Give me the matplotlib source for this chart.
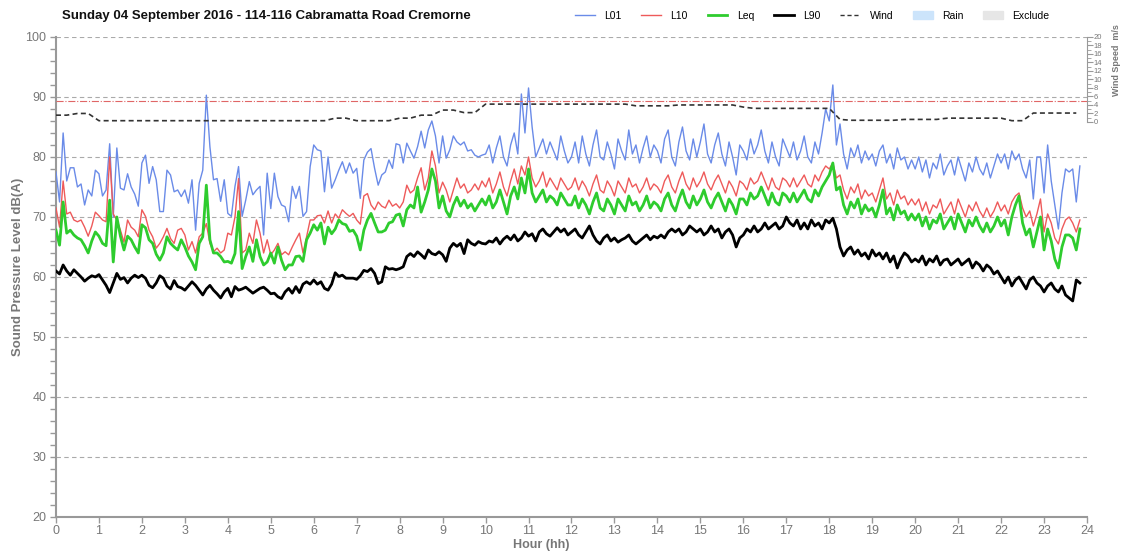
import numpy as np
import matplotlib.pyplot as plt
from matplotlib.lines import Line2D
from matplotlib.patches import Patch

plt.rcParams['font.family'] = ['Liberation Sans', 'DejaVu Sans']

title = 'Sunday 04 September 2016 - 114-116 Cabramatta Road Cremorne'

# 5-minute noise statistics, dB(A), 00:00 to 23:50
l01 = [
    77.5, 72.5, 84.0, 76.0, 78.2, 78.2, 75.0, 75.5, 72.0, 74.5, 73.5, 77.8,
    77.2, 73.5, 74.5, 82.2, 70.0, 81.5, 74.8, 74.5, 77.2, 75.0, 73.8, 71.8,
    79.0, 80.3, 75.6, 78.4, 76.2, 70.9, 70.9, 77.8, 77.0, 74.2, 74.5, 73.4,
    74.5, 72.3, 76.2, 67.8, 75.6, 77.8, 90.3, 81.7, 76.2, 76.4, 72.6, 76.2,
    70.6, 70.1, 75.1, 78.4, 70.1, 72.8, 75.9, 73.7, 74.5, 75.1, 67.0, 77.3,
    71.4, 77.3, 73.4, 72.0, 71.7, 69.2, 75.1, 73.1, 75.1, 70.1, 70.9, 78.4,
    82.0, 81.2, 81.0, 74.2, 80.0, 74.8, 76.2, 77.8, 79.2, 77.3, 79.0, 77.3,
    78.1, 73.1, 79.5, 80.8, 81.4, 78.1, 75.3, 77.0, 77.5, 79.5, 78.1, 82.2,
    82.0, 79.0, 82.3, 81.0, 79.8, 81.7, 84.3, 81.5, 84.5, 86.0, 83.5, 79.0,
    83.5, 79.8, 81.2, 83.5, 82.5, 82.0, 82.5, 81.0, 81.2, 80.3, 80.0, 80.3,
    80.5, 82.0, 79.0, 81.5, 83.5, 80.0, 78.5, 82.0, 84.0, 80.5, 90.5, 84.0,
    91.5, 85.0, 80.0, 81.5, 83.0, 80.5, 82.5, 81.0, 79.5, 83.5, 81.0, 79.0,
    80.0, 82.5, 79.0, 83.5, 80.5, 78.5, 82.0, 84.5, 80.0, 79.5, 82.5, 80.5,
    78.0, 83.0, 81.0, 79.5, 84.5, 80.5, 82.0, 79.0, 81.5, 83.5, 80.0, 82.0,
    81.0, 79.0, 83.0, 84.5, 80.0, 78.5, 82.5, 85.0, 81.0, 79.5, 83.0, 80.0,
    82.5, 85.5, 80.5, 79.0, 82.0, 84.0, 80.5, 78.5, 82.5, 80.0, 77.0, 82.0,
    81.0, 79.5, 83.0, 80.5, 82.0, 84.5, 81.0, 79.0, 82.5, 80.0, 78.5, 83.0,
    81.5, 80.0, 82.5, 79.5, 81.0, 83.5, 80.0, 79.0, 82.5, 80.5, 84.0, 88.0,
    86.0, 92.0, 82.0, 85.5, 80.5, 78.0, 81.5, 80.0, 82.0, 79.0, 81.0, 79.5,
    80.5, 78.5, 81.0, 82.0, 79.0, 80.5, 78.0, 81.5, 79.5, 80.0, 78.0, 79.5,
    78.0, 80.0, 77.5, 79.5, 76.5, 79.0, 78.0, 80.5, 77.0, 78.5, 79.5, 77.0,
    80.0, 78.0, 76.0, 79.0, 77.5, 80.0, 78.0, 77.0, 79.0, 76.5, 78.5, 80.5,
    79.0, 80.5, 78.0, 81.0, 79.5, 80.5, 78.0, 76.5, 79.5, 73.0, 80.0, 80.0,
    74.0, 82.0, 76.0, 72.0, 68.0, 74.0, 78.0, 77.5, 78.0, 72.5, 78.5,
]
l10 = [
    71.5, 68.3, 76.0, 70.5, 70.8, 69.5, 69.2, 69.5, 68.3, 66.8, 68.5, 70.8,
    70.2, 69.5, 69.2, 80.0, 70.5, 69.5, 67.8, 65.8, 69.5, 68.3, 67.8, 66.7,
    71.2, 70.1, 67.8, 66.7, 64.8, 65.6, 66.7, 68.1, 66.4, 65.6, 67.8, 68.1,
    67.0, 64.5, 65.9, 64.0, 66.7, 67.3, 68.9, 65.6, 64.2, 64.8, 64.0, 64.5,
    67.3, 67.0, 70.0, 76.4, 64.0, 64.5, 67.3, 65.6, 69.5, 67.3, 64.0, 66.2,
    63.7, 64.5, 65.6, 63.7, 64.2, 63.7, 65.0, 66.2, 67.3, 64.0, 66.7, 69.5,
    69.5, 70.2, 70.3, 69.0, 71.0, 69.0, 70.5, 69.8, 71.2, 70.6, 70.1, 70.6,
    69.5, 68.8, 73.5, 73.9, 72.0, 71.2, 72.5, 71.8, 71.5, 72.8, 71.8, 72.2,
    71.5, 72.5, 75.3, 74.0, 74.5, 76.5, 78.2, 74.5, 76.5, 81.0, 78.5, 74.0,
    75.8, 74.5, 72.5, 74.5, 76.5, 74.8, 75.5, 74.0, 74.5, 75.5, 74.5, 76.0,
    75.0, 76.5, 74.0, 75.5, 77.5, 75.0, 73.5, 76.0, 78.0, 75.5, 78.5, 77.0,
    80.0, 76.5, 75.0, 76.0, 77.5, 75.0, 76.5, 75.5, 74.5, 76.5, 75.5, 74.5,
    75.0, 76.5, 74.5, 76.0, 75.0, 73.5, 75.5, 77.0, 74.5, 74.0, 76.0, 75.0,
    73.5, 76.0, 75.0, 74.0, 76.5, 75.0, 75.5, 74.0, 75.0, 76.5, 74.5, 75.5,
    75.0, 74.0, 76.0, 77.0, 75.0, 74.0, 76.0, 77.5, 75.5, 74.5, 76.5, 75.0,
    76.0, 77.5, 75.5, 74.5, 76.0, 77.0, 75.5, 74.0, 76.0, 75.0, 73.5, 76.0,
    75.5, 74.5, 76.5, 75.5, 76.0, 77.5, 76.0, 74.5, 76.5, 75.0, 74.5, 76.5,
    76.0, 75.0, 76.5, 75.0, 76.0, 77.0, 75.5, 75.0, 77.0, 76.0, 77.5, 78.5,
    78.0, 79.0, 76.5, 77.0, 74.5, 73.0, 75.0, 74.0, 75.5, 73.0, 74.5, 73.5,
    74.0, 72.5, 74.5, 76.5, 73.0, 74.0, 72.0, 74.5, 73.0, 73.5, 72.0, 73.0,
    72.0, 73.0, 71.0, 72.5, 70.5, 72.0, 71.5, 73.0, 70.5, 71.5, 72.5, 70.5,
    73.0, 71.5, 70.0, 72.0, 71.0, 72.5, 71.0, 70.0, 71.5, 70.0, 71.0, 72.5,
    71.0, 72.0, 70.5, 72.5, 73.5, 74.0, 71.5, 70.0, 71.0, 68.5, 70.5, 73.0,
    67.5, 70.5, 69.0, 66.5, 65.5, 68.0, 69.5, 70.0, 69.0, 67.5, 69.5,
]
leq = [
    67.8, 65.3, 72.5, 67.3, 67.8, 67.0, 66.5, 66.2, 65.2, 64.0, 66.0, 67.5,
    66.8, 65.6, 65.2, 72.8, 62.5, 70.0, 66.8, 64.5, 66.8, 66.2, 65.0, 64.0,
    68.7, 68.2, 66.2, 65.6, 63.8, 62.8, 64.0, 66.7, 65.6, 65.0, 64.5, 66.2,
    65.0, 63.5, 62.5, 61.2, 65.6, 66.7, 75.3, 66.2, 64.0, 64.0, 63.4, 62.5,
    62.6, 62.3, 63.9, 70.9, 61.4, 63.4, 65.0, 62.6, 66.2, 63.4, 62.0, 62.5,
    64.0, 62.3, 65.0, 62.8, 61.2, 62.0, 62.0, 63.4, 63.5, 62.6, 66.2, 67.3,
    68.7, 67.8, 69.0, 65.5, 68.3, 67.2, 68.0, 69.5, 68.9, 68.7, 67.6, 67.8,
    66.8, 64.5, 67.8, 69.5, 70.6, 69.0, 67.5, 67.5, 67.8, 69.0, 69.2, 70.3,
    70.5, 68.5, 71.2, 72.0, 71.5, 75.0, 70.8, 72.5, 74.5, 78.0, 76.0, 71.5,
    73.5, 71.0, 70.0, 72.0, 73.3, 71.8, 72.8, 71.5, 72.2, 71.0, 72.0, 73.0,
    72.0, 73.5, 71.5, 72.5, 74.5, 72.5, 70.5, 73.5, 75.0, 73.0, 76.5, 74.0,
    78.0, 74.0, 72.5, 73.5, 74.5, 72.5, 73.5, 73.0, 72.0, 74.0, 73.0, 72.0,
    72.0, 73.5, 71.5, 73.0, 72.0, 70.5, 72.5, 74.0, 71.5, 71.0, 73.0, 72.0,
    70.5, 73.0, 72.0, 71.0, 73.5, 72.0, 72.5, 71.0, 72.0, 73.5, 71.5, 72.5,
    72.0, 71.0, 73.0, 74.0, 72.0, 71.0, 73.0, 74.5, 72.5, 71.5, 73.5, 72.0,
    73.0, 74.5, 72.5, 71.5, 73.0, 74.0, 72.5, 71.0, 73.0, 72.0, 70.5, 73.0,
    73.0, 72.0, 74.0, 73.0, 73.5, 75.0, 73.5, 72.0, 74.0, 72.5, 72.0, 74.0,
    73.5, 72.5, 74.0, 72.5, 73.5, 74.5, 73.0, 72.5, 74.5, 73.5, 75.0, 76.0,
    77.0, 79.0, 74.5, 75.0, 72.0, 70.5, 72.5, 71.5, 73.0, 70.5, 72.0, 71.0,
    71.5, 70.0, 72.0, 74.5, 70.5, 71.5, 69.5, 72.0, 70.5, 71.0, 69.5, 70.5,
    69.5, 70.5, 68.5, 70.0, 68.0, 69.5, 69.0, 70.5, 68.0, 69.0, 70.0, 68.0,
    70.5, 69.0, 67.5, 69.5, 68.5, 70.0, 68.5, 67.5, 69.0, 67.5, 68.5, 70.0,
    68.5, 69.5, 67.0, 70.0, 72.0, 73.5, 69.0, 67.0, 68.0, 65.0, 67.5, 70.0,
    64.5, 68.0, 66.0, 63.0, 61.5, 65.0, 67.0, 67.0, 66.5, 64.5, 68.0,
]
l90 = [
    61.0, 60.5, 62.0, 61.0, 60.3, 61.2, 60.6, 60.0, 59.3, 59.8, 60.2, 60.0,
    60.4, 59.5, 58.6, 57.4, 59.0, 60.6, 59.6, 59.9, 59.0, 59.8, 60.3, 59.9,
    60.3, 59.8, 58.6, 58.2, 59.0, 60.2, 59.8, 58.5, 58.0, 59.4, 58.4, 58.2,
    57.8, 58.5, 59.2, 58.6, 57.8, 57.0, 58.0, 58.6, 57.8, 57.2, 56.5, 57.5,
    58.1, 56.7, 58.4, 57.8, 58.0, 58.3, 57.8, 57.3, 57.7, 58.1, 58.3, 57.8,
    57.2, 57.3, 56.7, 56.4, 57.5, 58.1, 57.3, 58.4, 57.4, 58.8, 59.2, 58.8,
    59.5, 58.8, 59.2, 58.1, 57.8, 58.8, 60.7, 60.1, 60.3, 59.8, 59.8, 59.8,
    59.6, 60.2, 61.1, 60.9, 61.4, 60.6, 58.9, 59.2, 61.7, 61.3, 61.4, 61.2,
    61.4, 61.7, 63.4, 63.9, 63.4, 64.2, 63.7, 63.1, 64.5, 63.9, 63.7, 64.2,
    63.7, 62.6, 64.8, 65.6, 65.1, 65.6, 63.9, 66.2, 65.6, 65.3, 65.9, 65.6,
    65.5, 66.0, 65.8, 66.5, 65.5, 66.3, 66.8, 66.2, 67.0, 66.0, 66.5, 67.5,
    66.8, 67.2, 66.0, 67.5, 68.0, 67.2, 66.8, 67.5, 68.2, 67.5, 68.0, 67.0,
    67.5, 68.0, 67.0, 66.5, 67.5, 68.5, 67.0, 66.0, 65.5, 66.5, 67.0, 66.0,
    66.5, 65.8, 66.2, 66.5, 67.0, 66.0, 65.5, 66.0, 66.5, 67.0, 66.2, 66.8,
    66.5, 67.0, 66.5, 67.5, 68.0, 67.5, 68.0, 67.0, 67.5, 68.5, 68.0, 67.5,
    68.0, 67.0, 67.5, 68.5, 67.5, 68.0, 66.5, 67.5, 68.0, 67.0, 65.0, 66.5,
    67.0, 68.0, 67.5, 68.5, 67.5, 68.0, 69.0, 68.0, 68.5, 69.0, 68.0, 68.5,
    70.0, 69.0, 68.5, 69.5, 68.0, 69.0, 68.0, 69.5, 68.5, 69.0, 68.0, 69.5,
    69.0, 69.8, 68.0, 65.0, 63.5, 64.5, 65.0, 63.8, 64.5, 63.5, 64.0, 63.0,
    64.5, 63.5, 64.0, 63.0, 64.0, 62.5, 63.5, 61.5, 63.0, 64.0, 63.5, 62.5,
    63.0, 62.5, 63.5, 62.0, 63.0, 62.5, 63.5, 62.0, 62.8, 63.0, 62.0, 62.5,
    63.0, 62.0, 62.5, 63.0, 61.5, 62.5, 62.0, 61.0, 62.0, 61.5, 60.5, 61.0,
    60.0, 59.0, 60.0, 58.5, 59.5, 60.0, 59.0, 58.0, 59.5, 60.0, 59.0, 58.5,
    57.5, 58.5, 59.0, 58.0, 57.5, 58.5, 57.0, 56.5, 56.0, 59.5, 59.0,
]

# 15-minute wind speed, m/s
wind = [
    1.6, 1.6, 2.0, 2.0, 0.3, 0.3, 0.3, 0.3, 0.3, 0.3, 0.3, 0.3,
    0.3, 0.3, 0.3, 0.3, 0.3, 0.3, 0.3, 0.3, 0.3, 0.3, 0.3, 0.3,
    0.3, 0.3, 0.9, 0.9, 0.3, 0.3, 0.3, 0.3, 0.9, 0.9, 1.6, 1.6,
    2.8, 2.8, 2.2, 2.2, 4.2, 4.2, 4.2, 4.2, 4.2, 4.2, 4.2, 4.2,
    4.2, 4.2, 4.2, 4.2, 4.2, 4.2, 3.8, 3.8, 3.8, 3.8, 4.0, 4.0,
    4.0, 4.0, 4.0, 4.0, 3.5, 3.2, 3.2, 3.2, 3.2, 3.2, 3.2, 3.2,
    3.2, 0.6, 0.4, 0.4, 0.4, 0.4, 0.4, 0.6, 0.6, 0.6, 0.6, 0.9,
    0.9, 0.9, 0.9, 0.9, 0.9, 0.3, 0.3, 2.1, 2.1, 2.1, 2.1, 2.1,
]
wind_limit = 5.0

hours = np.arange(len(l01)) * 5 / 60
wind_hours = np.arange(len(wind)) * 0.25

grey = '#777777'
c_l01, c_l10, c_leq = '#6a8be8', '#ee5a5a', '#2ecc2e'

fig = plt.figure(figsize=(11.24, 5.55), dpi=100)
ax = fig.add_axes([0.0498, 0.0685, 0.9173, 0.8649])

ax.plot(hours, l01, color=c_l01, lw=1.0, zorder=3)
ax.plot(hours, l10, color=c_l10, lw=1.0, zorder=4)
ax.plot(hours, leq, color=c_leq, lw=2.0, zorder=5)
ax.plot(hours, l90, color='black', lw=2.0, zorder=6)

ax.set_xlim(0, 24)
ax.set_ylim(20, 100)
ax.set_xticks(range(0, 25))
ax.set_yticks(range(20, 101, 10))
ax.set_yticks(range(20, 101, 2), minor=True)
ax.yaxis.grid(True, ls=(0, (4, 3)), color='#aaaaaa', lw=0.8)
ax.set_axisbelow(True)
for s in ['top', 'right']:
    ax.spines[s].set_visible(False)
for s in ['left', 'bottom']:
    ax.spines[s].set_color('#999999')
    ax.spines[s].set_linewidth(1.5)
ax.tick_params(axis='both', colors='#999999', labelcolor=grey, labelsize=9,
               length=4, width=1)
ax.tick_params(axis='x', pad=2)
ax.tick_params(axis='y', pad=3)
ax.tick_params(axis='y', which='minor', colors='#999999', length=4, width=1)
ax.set_xlabel('Hour (hh)', color=grey, fontsize=9, fontweight='bold')
ax.xaxis.set_label_coords(0.471, -0.045)
ax.set_ylabel('Sound Pressure Level dB(A)', color=grey, fontsize=9.5,
              fontweight='bold')
ax.yaxis.set_label_coords(-0.031, 0.52)

# wind speed on its own scale in the top band
wax = ax.twinx()
wax.plot(wind_hours, wind, color='#333333', lw=1.2, ls=(0, (3, 2)), zorder=2)
wax.axhline(wind_limit, color='#e06666', lw=0.8, ls='-.', zorder=1)
wax.set_ylim(20 - 112.94, 20)
wax.set_yticks(range(0, 21, 2))
wax.set_yticks(range(0, 21, 1), minor=True)
for s in ['top', 'left', 'bottom']:
    wax.spines[s].set_visible(False)
wax.spines['right'].set_bounds(0, 20)
wax.spines['right'].set_color('#999999')
wax.tick_params(axis='y', colors='#999999', labelcolor=grey, labelsize=5.5,
                length=4, width=0.8, pad=1)
wax.tick_params(axis='y', which='minor', colors='#999999', length=3, width=0.6)
fig.text(0.9937, 0.892, 'Wind Speed  m/s', rotation=90, color=grey, fontsize=6.5,
         fontweight='bold', ha='center', va='center')

fig.text(0.055, 0.972, title, fontsize=9.5, fontweight='bold', color='#111111',
         va='center')

handles = [
    Line2D([], [], color=c_l01, lw=1.0),
    Line2D([], [], color=c_l10, lw=1.0),
    Line2D([], [], color=c_leq, lw=2.0),
    Line2D([], [], color='black', lw=2.0),
    Line2D([], [], color='#333333', lw=1.0, ls=(0, (3, 2))),
    Patch(color='#cce4fb'),
    Patch(color='#e6e6e6'),
]
labels = ['L01', 'L10', 'Leq', 'L90', 'Wind', 'Rain', 'Exclude']
fig.legend(handles, labels, loc='center left', bbox_to_anchor=(0.5116, 0.972),
           ncol=7, frameon=False, fontsize=7.5, handlelength=1.9,
           handleheight=0.7, columnspacing=1.9, handletextpad=0.9,
           borderpad=0, borderaxespad=0)

fig.savefig('out.png', dpi=100)
